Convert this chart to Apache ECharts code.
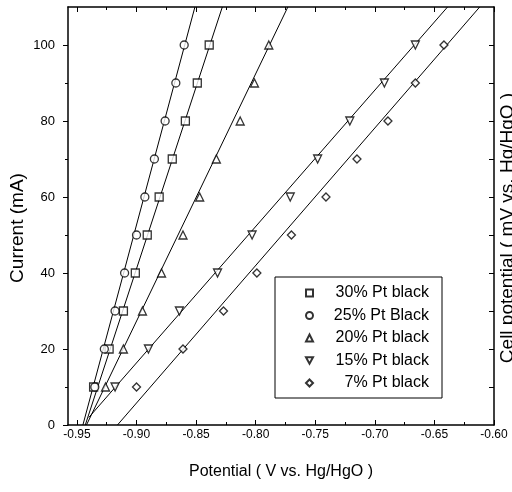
<!DOCTYPE html>
<html>
<head>
    <meta charset="utf-8">
    <title>Pt black polarisation</title>
    <script src="https://cdn.jsdelivr.net/npm/echarts@6/dist/echarts.min.js"></script>
    <style>
        html, body { margin: 0; padding: 0; background: #fff; }
        #main { width: 512px; height: 492px; }
    </style>
</head>
<body>
    <div id="main"></div>
    <script type="text/javascript">
    // current values (mA), same for every loading
    var currents = [10, 20, 30, 40, 50, 60, 70, 80, 90, 100];
    // potential (V vs. Hg/HgO) for each current
    var pt30 = [-0.936, -0.923, -0.911, -0.901, -0.891, -0.881, -0.870, -0.859, -0.849, -0.839];
    var pt25 = [-0.935, -0.927, -0.918, -0.910, -0.900, -0.893, -0.885, -0.876, -0.867, -0.860];
    var pt20 = [-0.926, -0.911, -0.895, -0.879, -0.861, -0.847, -0.833, -0.813, -0.801, -0.789];
    var pt15 = [-0.918, -0.890, -0.864, -0.832, -0.803, -0.771, -0.748, -0.721, -0.692, -0.666];
    var pt7  = [-0.900, -0.861, -0.827, -0.799, -0.770, -0.741, -0.715, -0.689, -0.666, -0.642];

    // fitted straight lines, end points as drawn
    var fit30 = [[-0.943, 0], [-0.828, 110]];
    var fit25 = [[-0.945, 0], [-0.851, 110]];
    var fit20 = [[-0.942, 0], [-0.773, 110]];
    var fit15 = [[-0.940, 2], [-0.639, 110]];
    var fit7  = [[-0.916, 0], [-0.612, 110]];

    var names = ['30% Pt black', '25% Pt Black', '20% Pt black', '15% Pt black', '7% Pt black'];
    var symbols = ['rect', 'circle', 'triangle', 'path://M0,0 L10,0 L5,9 Z', 'diamond'];

    var xMajor = [-0.95, -0.90, -0.85, -0.80, -0.75, -0.70, -0.65, -0.60];
    var xMinor = [-0.925, -0.875, -0.825, -0.775, -0.725, -0.675, -0.625];
    var yMajor = [0, 20, 40, 60, 80, 100];
    var yMinor = [10, 30, 50, 70, 90];
    var yRight = [10, 20, 30, 40, 50, 60, 70, 80, 90, 100];

    var font = 'Liberation Sans, Arial, sans-serif';

    var myChart = echarts.init(document.getElementById('main'));

    function pairs(xs) {
        var out = [];
        for (var i = 0; i < xs.length; i++) {
            out.push([xs[i], currents[i]]);
        }
        return out;
    }

    function xAx(pos, ticks, len, showLine, labels) {
        return {
            type: 'value', position: pos, min: -0.9575, max: -0.60,
            axisLine: { show: showLine, onZero: false, lineStyle: { color: '#000', width: 1.5 } },
            axisTick: { show: true, inside: true, length: len, customValues: ticks,
                        lineStyle: { color: '#000', width: 1 } },
            axisLabel: labels ? {
                show: true, customValues: ticks, margin: 4,
                color: '#000', fontSize: 12, fontFamily: font,
                formatter: function (v) { return v.toFixed(2); }
            } : { show: false },
            splitLine: { show: false }
        };
    }

    function yAx(pos, ticks, len, inside, showLine, labels) {
        return {
            type: 'value', position: pos, min: 0, max: 110,
            axisLine: { show: showLine, onZero: false, lineStyle: { color: '#000', width: 1.5 } },
            axisTick: { show: true, inside: inside, length: len, customValues: ticks,
                        lineStyle: { color: '#000', width: 1 } },
            axisLabel: labels ? {
                show: true, customValues: ticks, margin: 13,
                color: '#000', fontSize: 13, fontFamily: font
            } : { show: false },
            splitLine: { show: false }
        };
    }

    var xBottom = xAx('bottom', xMajor, 5, true, true);
    xBottom.name = 'Potential ( V vs. Hg/HgO )';
    xBottom.nameLocation = 'middle';
    xBottom.nameGap = 39;
    xBottom.nameTextStyle = { color: '#000', fontSize: 16, fontFamily: font };

    var series = [];
    var pts = [pt30, pt25, pt20, pt15, pt7];
    var fits = [fit30, fit25, fit20, fit15, fit7];
    for (var k = 0; k < 5; k++) {
        series.push({
            type: 'line', data: fits[k], symbol: 'none', silent: true,
            lineStyle: { color: '#000', width: 1 }, z: 1
        });
    }
    for (var j = 0; j < 5; j++) {
        series.push({
            name: names[j], type: 'scatter', data: pairs(pts[j]),
            symbol: symbols[j], symbolSize: 8,
            itemStyle: { color: '#fff', borderColor: '#000', borderWidth: 1.3 },
            z: 3
        });
    }

    var option = {
        backgroundColor: '#fff',
        animation: false,
        grid: { left: 68, right: 18, top: 7, bottom: 67 },
        xAxis: [
            xBottom,
            xAx('bottom', xMinor, 3, false, false),
            xAx('top', xMajor, 5, true, false),
            xAx('top', xMinor, 3, false, false)
        ],
        yAxis: [
            yAx('left', yMajor, 5, false, true, true),
            yAx('left', yMinor, 3, false, false, false),
            yAx('right', yRight, 5, true, true, false)
        ],
        legend: {
            data: names,
            orient: 'vertical',
            left: 275, top: 277,
            padding: [8, 13, 7, 30],
            itemGap: 6.5,
            itemWidth: 7, itemHeight: 7,
            borderColor: '#000', borderWidth: 1,
            backgroundColor: '#fff',
            formatter: function (name) { return '{t|' + name + '}'; },
            textStyle: {
                color: '#000', fontSize: 16, fontFamily: font,
                rich: { t: { width: 111, align: 'right', fontSize: 16, lineHeight: 16, fontFamily: font } }
            }
        },
        graphic: [{
            // y axis title
            type: 'text',
            x: 18, y: 228,
            rotation: Math.PI / 2,
            style: {
                text: 'Current (mA)',
                fill: '#000', fontSize: 19, fontFamily: font,
                align: 'center', verticalAlign: 'middle'
            }
        }, {
            // right hand title, cut by the page edge
            type: 'text',
            x: 508, y: 228,
            rotation: Math.PI / 2,
            style: {
                text: 'Cell potential ( mV vs. Hg/HgO )',
                fill: '#000', fontSize: 19, fontFamily: font,
                align: 'center', verticalAlign: 'middle'
            }
        }],
        series: series
    };

    myChart.setOption(option);
    </script>
</body>
</html>
